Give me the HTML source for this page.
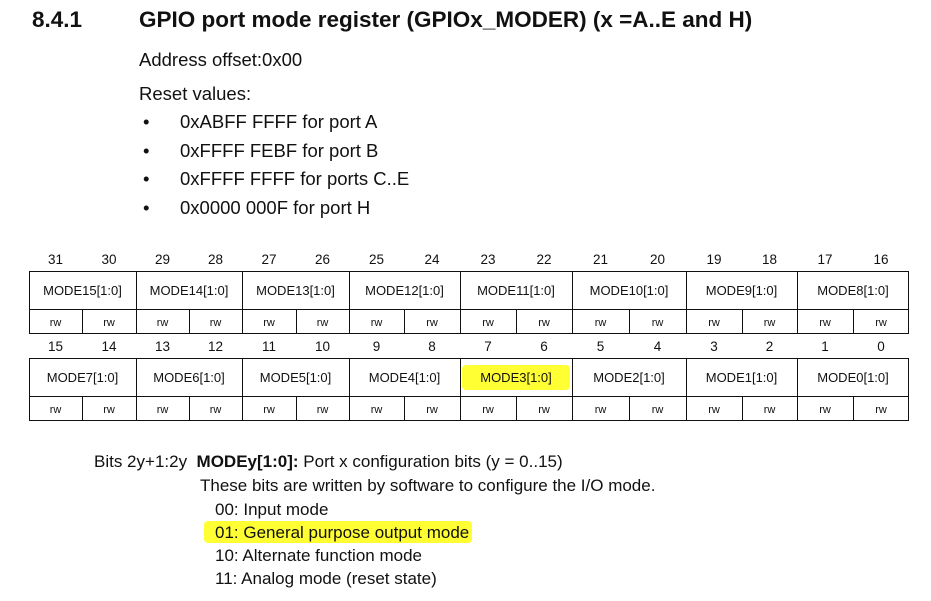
<!DOCTYPE html>
<html><head><meta charset="utf-8"><style>
html,body{margin:0;padding:0;background:#fff;width:931px;height:601px;overflow:hidden}
.t{position:absolute;font-family:"Liberation Sans",Arial,sans-serif;color:#111;white-space:nowrap}
</style></head><body>
<div class="t" style="left:32px;top:5px;font-size:22.5px;font-weight:bold;line-height:30px">8.4.1</div>
<div class="t" style="left:139px;top:5px;font-size:22.5px;font-weight:bold;line-height:30px">GPIO port mode register (GPIOx_MODER) (x =A..E and H)</div>
<div class="t" style="left:139px;top:49px;font-size:18.5px;line-height:22px">Address offset:0x00</div>
<div class="t" style="left:139px;top:83px;font-size:18.5px;line-height:22px">Reset values:</div>
<div class="t" style="left:143px;top:111px;font-size:18.5px;line-height:22px">•</div>
<div class="t" style="left:180px;top:111px;font-size:18.5px;line-height:22px">0xABFF FFFF for port A</div>
<div class="t" style="left:143px;top:140px;font-size:18.5px;line-height:22px">•</div>
<div class="t" style="left:180px;top:140px;font-size:18.5px;line-height:22px">0xFFFF FEBF for port B</div>
<div class="t" style="left:143px;top:168px;font-size:18.5px;line-height:22px">•</div>
<div class="t" style="left:180px;top:168px;font-size:18.5px;line-height:22px">0xFFFF FFFF for ports C..E</div>
<div class="t" style="left:143px;top:197px;font-size:18.5px;line-height:22px">•</div>
<div class="t" style="left:180px;top:197px;font-size:18.5px;line-height:22px">0x0000 000F for port H</div>

<svg style="position:absolute;left:0;top:0" width="931" height="601" font-family="Liberation Sans, Arial, sans-serif" fill="#111">
<rect x="462" y="365" width="108" height="25" rx="4" fill="#ffff33"/>
<rect x="204" y="521" width="268" height="22" rx="4" fill="#ffff33"/>
<g stroke="#111" stroke-width="1" fill="none">
<rect x="29.5" y="271.5" width="879" height="62"/>
<line x1="29" y1="309.5" x2="909" y2="309.5"/>
<rect x="29.5" y="358.5" width="879" height="62"/>
<line x1="29" y1="396.5" x2="909" y2="396.5"/>
<path d="M136.5 271V334M242.5 271V334M349.5 271V334M460.5 271V334M572.5 271V334M686.5 271V334M797.5 271V334"/>
<path d="M136.5 358V421M242.5 358V421M349.5 358V421M460.5 358V421M572.5 358V421M686.5 358V421M797.5 358V421"/>
<path d="M82.5 309V334M189.5 309V334M296.5 309V334M404.5 309V334M516.5 309V334M629.5 309V334M742.5 309V334M853.5 309V334"/>
<path d="M82.5 396V421M189.5 396V421M296.5 396V421M404.5 396V421M516.5 396V421M629.5 396V421M742.5 396V421M853.5 396V421"/>
</g>
<g font-size="13.5" text-anchor="middle">
<text x="55.5" y="264">31</text><text x="109" y="264">30</text><text x="162.5" y="264">29</text><text x="215.5" y="264">28</text><text x="269" y="264">27</text><text x="322.5" y="264">26</text><text x="376.5" y="264">25</text><text x="432" y="264">24</text><text x="488" y="264">23</text><text x="544" y="264">22</text><text x="600.5" y="264">21</text><text x="657.5" y="264">20</text><text x="714" y="264">19</text><text x="769.5" y="264">18</text><text x="825" y="264">17</text><text x="881" y="264">16</text>
<text x="55.5" y="351">15</text><text x="109" y="351">14</text><text x="162.5" y="351">13</text><text x="215.5" y="351">12</text><text x="269" y="351">11</text><text x="322.5" y="351">10</text><text x="376.5" y="351">9</text><text x="432" y="351">8</text><text x="488" y="351">7</text><text x="544" y="351">6</text><text x="600.5" y="351">5</text><text x="657.5" y="351">4</text><text x="714" y="351">3</text><text x="769.5" y="351">2</text><text x="825" y="351">1</text><text x="881" y="351">0</text>
</g>
<g font-size="13" text-anchor="middle">
<text x="82.5" y="295">MODE15[1:0]</text><text x="189" y="295">MODE14[1:0]</text><text x="295.5" y="295">MODE13[1:0]</text><text x="404.5" y="295">MODE12[1:0]</text><text x="516" y="295">MODE11[1:0]</text><text x="629" y="295">MODE10[1:0]</text><text x="741.5" y="295">MODE9[1:0]</text><text x="853" y="295">MODE8[1:0]</text>
<text x="82.5" y="382">MODE7[1:0]</text><text x="189" y="382">MODE6[1:0]</text><text x="295.5" y="382">MODE5[1:0]</text><text x="404.5" y="382">MODE4[1:0]</text><text x="516" y="382">MODE3[1:0]</text><text x="629" y="382">MODE2[1:0]</text><text x="741.5" y="382">MODE1[1:0]</text><text x="853" y="382">MODE0[1:0]</text>
</g>
<g font-size="11" text-anchor="middle">
<text x="55.5" y="326">rw</text><text x="109" y="326">rw</text><text x="162.5" y="326">rw</text><text x="215.5" y="326">rw</text><text x="269" y="326">rw</text><text x="322.5" y="326">rw</text><text x="376.5" y="326">rw</text><text x="432" y="326">rw</text><text x="488" y="326">rw</text><text x="544" y="326">rw</text><text x="600.5" y="326">rw</text><text x="657.5" y="326">rw</text><text x="714" y="326">rw</text><text x="769.5" y="326">rw</text><text x="825" y="326">rw</text><text x="881" y="326">rw</text>
<text x="55.5" y="413">rw</text><text x="109" y="413">rw</text><text x="162.5" y="413">rw</text><text x="215.5" y="413">rw</text><text x="269" y="413">rw</text><text x="322.5" y="413">rw</text><text x="376.5" y="413">rw</text><text x="432" y="413">rw</text><text x="488" y="413">rw</text><text x="544" y="413">rw</text><text x="600.5" y="413">rw</text><text x="657.5" y="413">rw</text><text x="714" y="413">rw</text><text x="769.5" y="413">rw</text><text x="825" y="413">rw</text><text x="881" y="413">rw</text>
</g>
</svg>

<div class="t" style="left:94px;top:451px;font-size:17px;line-height:21px">Bits 2y+1:2y&nbsp;&nbsp;<b>MODEy[1:0]:</b> Port x configuration bits (y = 0..15)</div>
<div class="t" style="left:200px;top:475px;font-size:17px;line-height:21px">These bits are written by software to configure the I/O mode.</div>
<div class="t" style="left:215px;top:499px;font-size:17px;line-height:21px">00: Input mode</div>
<div class="t" style="left:215px;top:522px;font-size:17px;line-height:21px">01: General purpose output mode</div>
<div class="t" style="left:215px;top:545px;font-size:17px;line-height:21px">10: Alternate function mode</div>
<div class="t" style="left:215px;top:568px;font-size:17px;line-height:21px">11: Analog mode (reset state)</div>
</body></html>
